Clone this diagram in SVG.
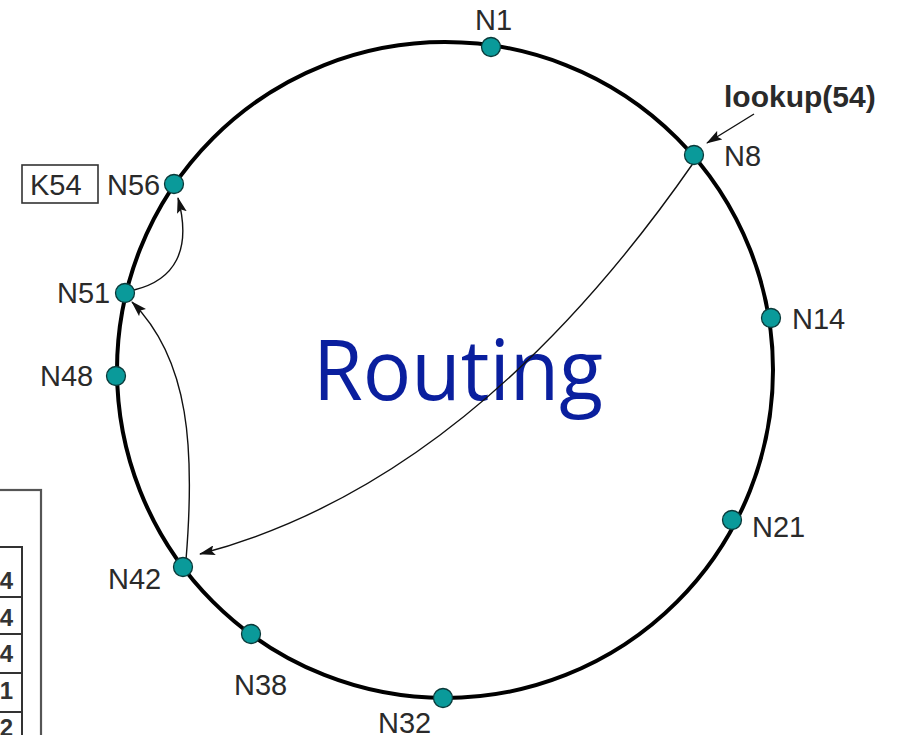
<svg xmlns="http://www.w3.org/2000/svg" width="897" height="735" viewBox="0 0 897 735">
<defs>
<style>
.lbl{font-family:"Liberation Sans",Arial,sans-serif;font-size:29px;fill:#2a2a2a}
.node{fill:#0a9a9a;stroke:#0b3a3a;stroke-width:1.3}
.conn{fill:none;stroke:#111;stroke-width:1.4}
.tbl{fill:none;stroke:#333;stroke-width:2}
.dig{font-family:"Liberation Sans",Arial,sans-serif;font-size:24px;font-weight:bold;fill:#333;text-anchor:end}
</style>
<marker id="ah" viewBox="0 0 16 10" refX="15" refY="5" markerWidth="16" markerHeight="10" markerUnits="userSpaceOnUse" orient="auto">
<path d="M0,0 L16,5 L0,10 L3,5 Z" fill="#111"/>
</marker>
</defs>
<rect width="897" height="735" fill="#fff"/>
<g id="table">
<rect x="-10" y="490" width="51" height="260" fill="none" stroke="#555" stroke-width="2.2"/>
<path class="tbl" d="M-5,547 H22 V740 M-5,597 H22 M-5,634 H22 M-5,673 H22 M-5,712 H22"/>
<text class="dig" x="13" y="589">4</text>
<text class="dig" x="13" y="626">4</text>
<text class="dig" x="13" y="662">4</text>
<text class="dig" x="13" y="699">1</text>
<text class="dig" x="13" y="736">2</text>
</g>
<g id="ring">
<circle cx="445" cy="370" r="328" fill="none" stroke="#000" stroke-width="4"/>
</g>
<g id="title">
<text x="313" y="400" font-family="'Open Sans','Noto Sans',sans-serif" font-size="84" fill="#0a1f9e" textLength="290" lengthAdjust="spacingAndGlyphs">Routing</text>
</g>
<g id="connectors">
<path class="conn" d="M754,114 L707,143" marker-end="url(#ah)"/>
<path class="conn" d="M694,162 Q471.5,482.5 200,554" marker-end="url(#ah)"/>
<path class="conn" d="M186,560 C195,450 190,360 132,302" marker-end="url(#ah)"/>
<path class="conn" d="M134,290 C175,280 192,250 178,198" marker-end="url(#ah)"/>
</g>
<g id="K54">
<rect x="22" y="165" width="76" height="38" fill="#fff" stroke="#333" stroke-width="1.6"/>
<text class="lbl" x="30" y="195">K54</text>
</g>
<g id="N1"><circle class="node" cx="491" cy="47" r="9.5"/><text class="lbl" x="475" y="30">N1</text></g>
<g id="N8"><circle class="node" cx="694" cy="155" r="9.5"/><text class="lbl" x="724" y="166">N8</text></g>
<g id="N14"><circle class="node" cx="771" cy="318" r="9.5"/><text class="lbl" x="792" y="329">N14</text></g>
<g id="N21"><circle class="node" cx="732" cy="520" r="9.5"/><text class="lbl" x="752" y="537">N21</text></g>
<g id="N32"><circle class="node" cx="443" cy="698" r="9.5"/><text class="lbl" x="378" y="733">N32</text></g>
<g id="N38"><circle class="node" cx="251" cy="634" r="9.5"/><text class="lbl" x="234" y="695">N38</text></g>
<g id="N42"><circle class="node" cx="183" cy="567" r="9.5"/><text class="lbl" x="108" y="589">N42</text></g>
<g id="N48"><circle class="node" cx="116" cy="376" r="9.5"/><text class="lbl" x="40" y="386">N48</text></g>
<g id="N51"><circle class="node" cx="125" cy="293" r="9.5"/><text class="lbl" x="57" y="303">N51</text></g>
<g id="N56"><circle class="node" cx="174" cy="184" r="9.5"/><text class="lbl" x="107" y="195">N56</text></g>
<g id="lookup"><text x="724" y="107" font-family="'Liberation Sans',Arial,sans-serif" font-size="30" font-weight="bold" fill="#2a2a2a">lookup(54)</text></g>
</svg>
